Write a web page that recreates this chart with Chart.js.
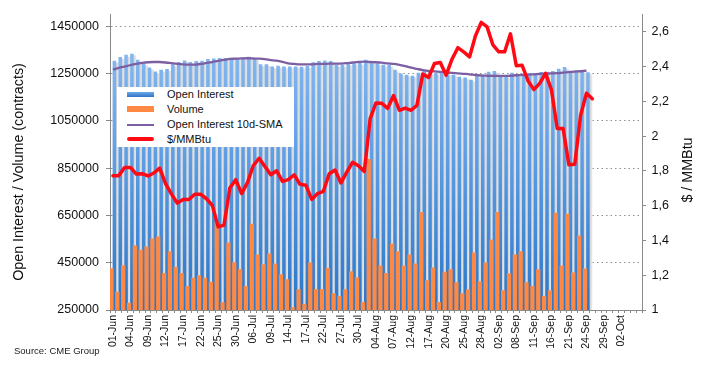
<!DOCTYPE html>
<html lang="en">
<head>
<meta charset="UTF-8">
<title>Natural gas futures: open interest, volume and price</title>
<script src="https://cdn.jsdelivr.net/npm/chart.js@4.4.1/dist/chart.umd.min.js"></script>
<style>
    body {
        margin: 0;
        background: #ffffff;
        font-family: 'Liberation Sans', Arial, sans-serif;
    }
    .wrap {
        position: relative;
        width: 704px;
        height: 370px;
    }
    .legend {
        position: absolute;
        left: 117px;
        top: 87px;
        width: 177px;
        height: 60px;
        background: #ffffff;
        font-size: 11px;
        color: #111;
    }
    .legend .row {
        position: absolute;
        left: 0;
        width: 177px;
        height: 15px;
        line-height: 15px;
    }
    .legend .sym {
        position: absolute;
        left: 10px;
        width: 27px;
    }
    .legend .txt {
        position: absolute;
        left: 50px;
        white-space: nowrap;
    }
    .axis-title {
        position: absolute;
        width: 300px;
        height: 18px;
        line-height: 18px;
        margin-left: -150px;
        margin-top: -9px;
        text-align: center;
        font-size: 14.3px;
        color: #111;
        white-space: nowrap;
        transform: rotate(-90deg);
    }
    .source {
        position: absolute;
        left: 14px;
        top: 345px;
        font-size: 9.5px;
        color: #222;
    }
</style>
</head>
<body>
<div class="wrap">
    <canvas id="oiChart" width="704" height="370"></canvas>

    <div class="axis-title" style="left:18px;top:172px">Open Interest / Volume (contracts)</div>
    <div class="axis-title" style="left:687px;top:170px">$ / MMBtu</div>

    <div class="legend">
        <div class="row" style="top:0px">
            <span class="sym" style="top:4.7px;height:5.6px;background:linear-gradient(#6fa9ec,#2e74c4)"></span>
            <span class="txt">Open Interest</span>
        </div>
        <div class="row" style="top:14.5px">
            <span class="sym" style="top:4.8px;height:5.6px;background:#ff8942"></span>
            <span class="txt">Volume</span>
        </div>
        <div class="row" style="top:30px">
            <span class="sym" style="top:6.5px;height:2.4px;background:#7c5fa3"></span>
            <span class="txt">Open Interest 10d-SMA</span>
        </div>
        <div class="row" style="top:45px">
            <span class="sym" style="top:5.3px;height:4px;background:#ff0a14;border-radius:2px"></span>
            <span class="txt">$/MMBtu</span>
        </div>
    </div>

    <div class="source">Source: CME Group</div>
</div>

<script>
    // trading days, Jun - early Oct
    const labels = [
        '01-Jun', '02-Jun', '03-Jun', '04-Jun', '05-Jun', '08-Jun', '09-Jun', '10-Jun', '11-Jun', '12-Jun',
        '15-Jun', '16-Jun', '17-Jun', '18-Jun', '19-Jun', '22-Jun', '23-Jun', '24-Jun', '25-Jun', '26-Jun',
        '29-Jun', '30-Jun',
        '01-Jul', '02-Jul', '06-Jul', '07-Jul', '08-Jul', '09-Jul', '10-Jul', '13-Jul', '14-Jul', '15-Jul',
        '16-Jul', '17-Jul', '20-Jul', '21-Jul', '22-Jul', '23-Jul', '24-Jul', '27-Jul', '28-Jul', '29-Jul',
        '30-Jul', '31-Jul',
        '03-Aug', '04-Aug', '05-Aug', '06-Aug', '07-Aug', '10-Aug', '11-Aug', '12-Aug', '13-Aug', '14-Aug',
        '17-Aug', '18-Aug', '19-Aug', '20-Aug', '21-Aug', '24-Aug', '25-Aug', '26-Aug', '27-Aug', '28-Aug',
        '31-Aug',
        '01-Sep', '02-Sep', '03-Sep', '04-Sep', '08-Sep', '09-Sep', '10-Sep', '11-Sep', '14-Sep', '15-Sep',
        '16-Sep', '17-Sep', '18-Sep', '21-Sep', '22-Sep', '23-Sep', '24-Sep', '25-Sep', '28-Sep', '29-Sep',
        '30-Sep',
        '01-Oct', '02-Oct', '05-Oct', '06-Oct', '07-Oct'
    ];
    const lastShownLabel = '02-Oct';

    // contracts
    const openInterest = [
        1303000, 1319000, 1328000, 1333000, 1307000, 1291000, 1274000, 1257000, 1265000, 1268000,
        1288000, 1298000, 1304000, 1298000, 1302000, 1303000, 1310000, 1312000, 1315000, 1315000,
        1315000, 1315000, 1316000, 1320000, 1313000, 1288000, 1288000, 1279000, 1282000, 1279000,
        1279000, 1279000, 1278000, 1281000, 1297000, 1302000, 1304000, 1302000, 1286000, 1286000,
        1291000, 1295000, 1294000, 1307000, 1301000, 1291000, 1286000, 1286000, 1265000, 1249000,
        1244000, 1240000, 1252000, 1260000, 1254000, 1252000, 1250000, 1249000, 1244000, 1235000,
        1232000, 1223000, 1241000, 1242000, 1256000, 1260000, 1240000, 1240000, 1252000, 1244000,
        1244000, 1249000, 1251000, 1255000, 1256000, 1260000, 1269000, 1277000, 1261000, 1263000,
        1259000, 1254000
    ];

    const volume = [
        427000, 327000, 439000, 281000, 523000, 505000, 519000, 552000, 561000, 407000,
        499000, 432000, 407000, 351000, 386000, 397000, 386000, 369000, 623000, 283000,
        536000, 452000, 423000, 351000, 615000, 485000, 443000, 489000, 447000, 401000,
        380000, 262000, 338000, 276000, 451000, 339000, 339000, 429000, 321000, 309000,
        338000, 414000, 389000, 284000, 889000, 552000, 438000, 406000, 531000, 498000,
        438000, 485000, 447000, 665000, 376000, 430000, 284000, 412000, 422000, 367000,
        321000, 338000, 493000, 372000, 451000, 548000, 665000, 334000, 405000, 485000,
        498000, 367000, 351000, 422000, 309000, 334000, 661000, 438000, 657000, 409000,
        565000, 426000
    ];

    const oiSma10 = [
        1267000, 1274000, 1280000, 1286000, 1291000, 1295000, 1298000, 1299000, 1299000, 1297000,
        1294000, 1291000, 1289000, 1288000, 1288000, 1291000, 1295000, 1299000, 1304000, 1308000,
        1312000, 1313000, 1314000, 1315000, 1314000, 1313000, 1311000, 1307000, 1305000, 1300000,
        1293000, 1291000, 1289000, 1289000, 1289000, 1291000, 1291000, 1292000, 1292000, 1292000,
        1294000, 1297000, 1299000, 1301000, 1299000, 1298000, 1296000, 1293000, 1291000, 1287000,
        1282000, 1275000, 1270000, 1265000, 1261000, 1259000, 1257000, 1255000, 1253000, 1251000,
        1249000, 1247000, 1244000, 1242000, 1241000, 1240000, 1240000, 1240000, 1241000, 1243000,
        1244000, 1246000, 1247000, 1249000, 1250000, 1251000, 1252000, 1254000, 1256000, 1258000,
        1260000, 1262000
    ];

    // $/MMBtu
    const price = [
        1.773, 1.773, 1.820, 1.820, 1.782, 1.784, 1.771, 1.788, 1.816, 1.727,
        1.668, 1.615, 1.636, 1.636, 1.666, 1.666, 1.640, 1.602, 1.478, 1.488,
        1.702, 1.750, 1.670, 1.731, 1.830, 1.873, 1.826, 1.778, 1.801, 1.740,
        1.750, 1.778, 1.723, 1.718, 1.636, 1.670, 1.683, 1.784, 1.805, 1.731,
        1.793, 1.850, 1.830, 1.797, 2.101, 2.191, 2.189, 2.160, 2.234, 2.149,
        2.162, 2.149, 2.177, 2.357, 2.338, 2.418, 2.424, 2.351, 2.443, 2.509,
        2.485, 2.456, 2.576, 2.655, 2.629, 2.525, 2.485, 2.485, 2.589, 2.405,
        2.408, 2.319, 2.268, 2.304, 2.361, 2.268, 2.044, 2.044, 1.835, 1.839,
        2.120, 2.247, 2.215
    ];

    const leftTicks = [250000, 450000, 650000, 850000, 1050000, 1250000, 1450000];
    const leftMin = 250000;
    const leftMax = 1500000;
    const rightTicks = [1, 1.2, 1.4, 1.6, 1.8, 2, 2.2, 2.4, 2.6];
    const rightTickLabels = ['1', '1,2', '1,4', '1,6', '1,8', '2', '2,2', '2,4', '2,6'];
    const rightMin = 1;
    const rightMax = 2.7;

    const FONT = "'Liberation Sans', Arial, sans-serif";
    const AXIS_GREY = '#8a8a8a';

    function oiGradient(context) {
        const chart = context.chart;
        const area = chart.chartArea;
        if (!area) return '#5b9be0';
        const g = chart.ctx.createLinearGradient(0, area.top, 0, area.bottom);
        g.addColorStop(0, '#93c1f4');
        g.addColorStop(0.5, '#5c9ce3');
        g.addColorStop(1, '#2a76c9');
        return g;
    }

    // grey "shadow" to the right of each open interest bar, like the Excel original
    const barShadow = {
        id: 'barShadow',
        beforeDatasetsDraw(chart) {
            const meta = chart.getDatasetMeta(0);
            const ctx = chart.ctx;
            const bottom = chart.chartArea.bottom;
            ctx.save();
            meta.data.forEach(bar => {
                const p = bar.getProps(['x', 'y', 'base', 'width'], true);
                const x = p.x + p.width / 2;
                const top = p.y + 1.5;
                const g = ctx.createLinearGradient(x, 0, x + p.width, 0);
                g.addColorStop(0, '#cfcfcf');
                g.addColorStop(1, '#ececec');
                ctx.fillStyle = g;
                ctx.fillRect(x, top, p.width, Math.min(p.base, bottom) - top);
            });
            ctx.restore();
        }
    };

    const lastIdx = labels.indexOf(lastShownLabel);

    new Chart(document.getElementById('oiChart'), {
        type: 'bar',
        data: {
            labels: labels,
            datasets: [
                {
                    label: 'Open Interest',
                    data: openInterest,
                    backgroundColor: oiGradient,
                    categoryPercentage: 1.0,
                    barPercentage: 1.0,
                    yAxisID: 'y',
                    order: 3
                },
                {
                    label: 'Volume',
                    data: volume,
                    backgroundColor: '#ff8942',
                    categoryPercentage: 1.0,
                    barPercentage: 1.45,
                    yAxisID: 'y',
                    order: 2
                },
                {
                    type: 'line',
                    label: 'Open Interest 10d-SMA',
                    data: oiSma10,
                    borderColor: '#7c5fa3',
                    borderWidth: 2.3,
                    pointRadius: 0,
                    tension: 0.3,
                    yAxisID: 'y',
                    order: 1
                },
                {
                    type: 'line',
                    label: '$/MMBtu',
                    data: price,
                    borderColor: '#ff0a14',
                    borderWidth: 3.5,
                    borderJoinStyle: 'round',
                    borderCapStyle: 'round',
                    pointRadius: 0,
                    tension: 0,
                    yAxisID: 'y1',
                    order: 0
                }
            ]
        },
        options: {
            responsive: false,
            animation: false,
            events: [],
            layout: { padding: { top: 12, left: 0, right: 0, bottom: 0 } },
            plugins: {
                legend: { display: false },
                tooltip: { enabled: false }
            },
            scales: {
                x: {
                    afterFit: s => { s.height = 60; },
                    grid: {
                        offset: true,
                        drawOnChartArea: false,
                        drawTicks: true,
                        tickLength: 3,
                        tickColor: AXIS_GREY
                    },
                    border: { display: true, color: AXIS_GREY, width: 1 },
                    ticks: {
                        autoSkip: false,
                        maxRotation: 90,
                        minRotation: 90,
                        padding: 2,
                        color: '#111',
                        font: { family: FONT, size: 10.5 },
                        callback: (v, i) => (i % 3 === 0 && i <= lastIdx) ? labels[i] : ''
                    }
                },
                y: {
                    position: 'left',
                    min: leftMin,
                    max: leftMax,
                    afterFit: s => { s.width = 110; },
                    afterBuildTicks: s => { s.ticks = leftTicks.map(v => ({ value: v })); },
                    grid: {
                        drawOnChartArea: true,
                        color: '#909090',
                        lineWidth: 1,
                        drawTicks: true,
                        tickLength: 4,
                        tickColor: AXIS_GREY
                    },
                    border: { display: true, color: AXIS_GREY, width: 1, dash: [1.5, 3] },
                    ticks: {
                        padding: 7,
                        color: '#111',
                        font: { family: FONT, size: 12.5 },
                        callback: v => String(v)
                    }
                },
                y1: {
                    position: 'right',
                    min: rightMin,
                    max: rightMax,
                    afterFit: s => { s.width = 62; },
                    afterBuildTicks: s => { s.ticks = rightTicks.map(v => ({ value: v })); },
                    grid: {
                        drawOnChartArea: false,
                        drawTicks: true,
                        tickLength: 4,
                        tickColor: AXIS_GREY
                    },
                    border: { display: true, color: AXIS_GREY, width: 1 },
                    ticks: {
                        padding: 5.5,
                        color: '#111',
                        font: { family: FONT, size: 12.5 },
                        callback: (v, i) => rightTickLabels[i]
                    }
                }
            }
        },
        plugins: [barShadow]
    });
</script>
</body>
</html>
